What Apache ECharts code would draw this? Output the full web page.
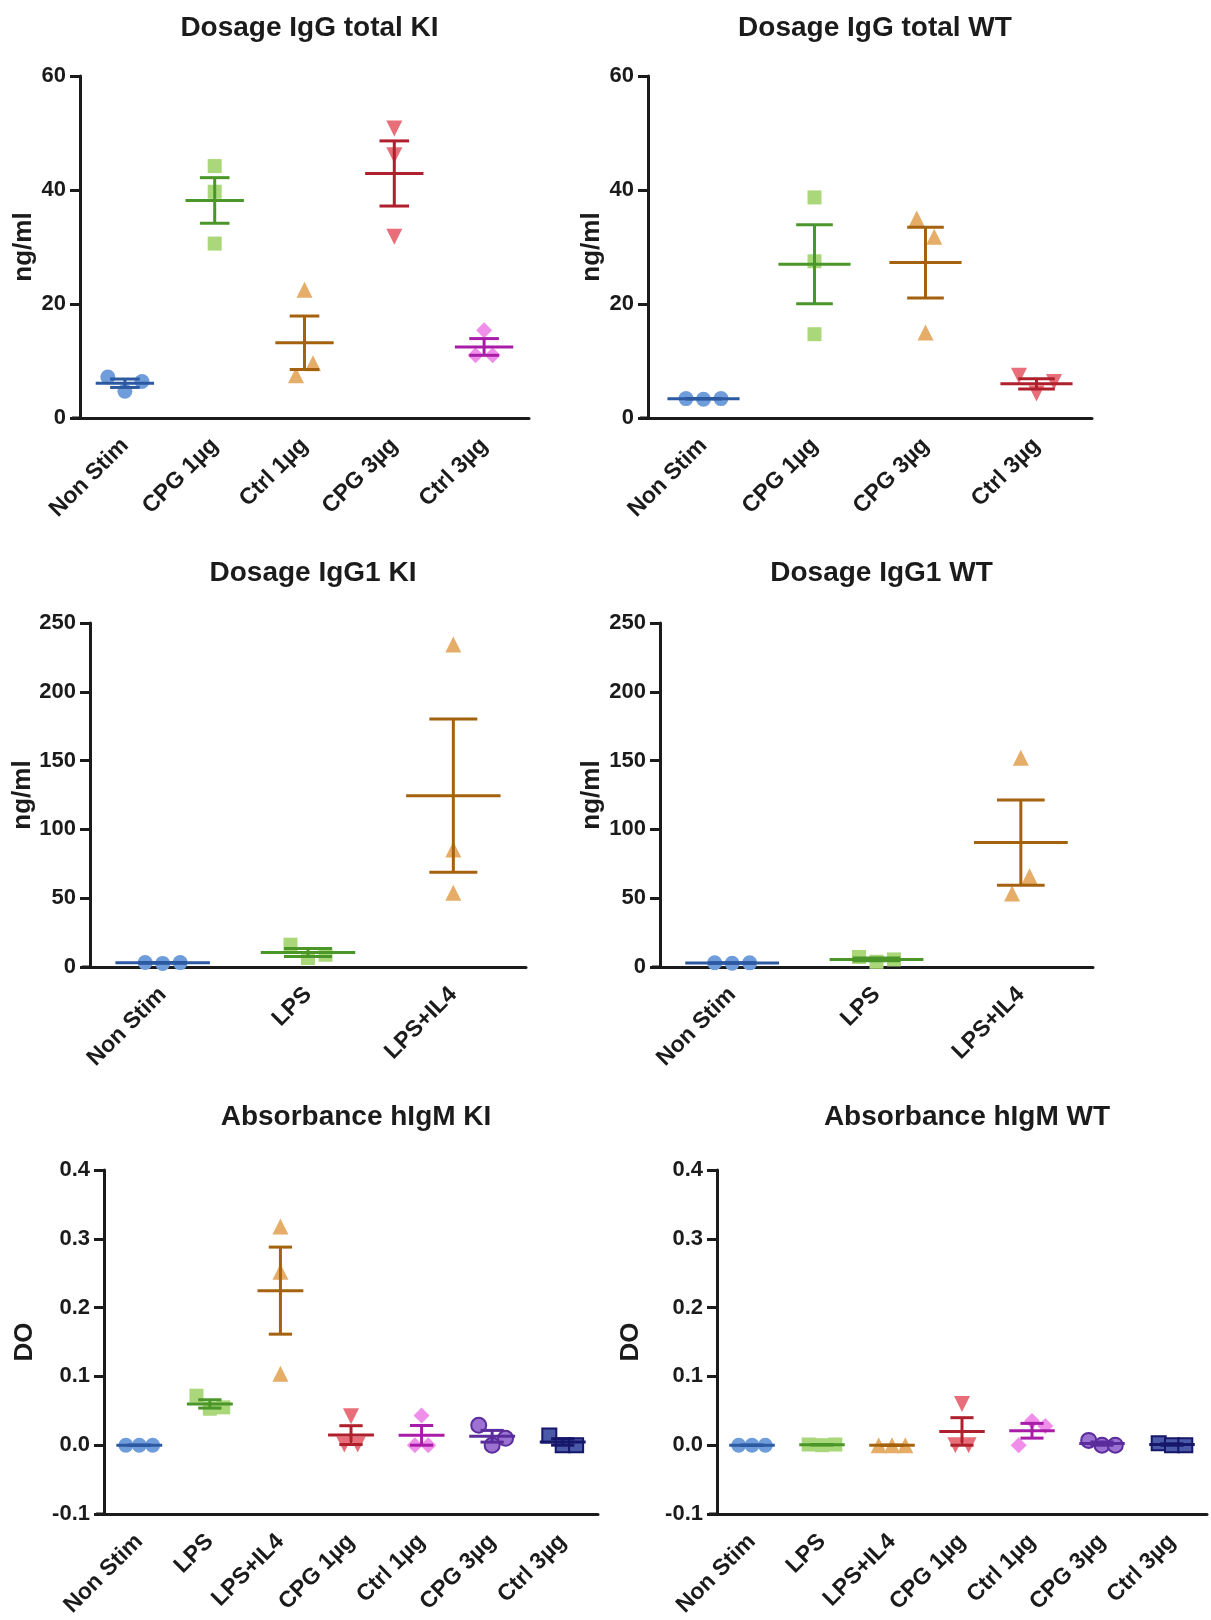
<!DOCTYPE html>
<html><head><meta charset="utf-8">
<script src="https://cdn.jsdelivr.net/npm/echarts@6/dist/echarts.min.js"></script>
<style>html,body{margin:0;padding:0;background:#fff}#c{width:1211px;height:1620px}</style>
</head><body><div id="c"></div>
<script>
// ---------------- DATA ----------------
const titles = ['Dosage IgG total KI', 'Dosage IgG total WT', 'Dosage IgG1 KI', 'Dosage IgG1 WT', 'Absorbance hIgM KI', 'Absorbance hIgM WT'];
const yNames = ['ng/ml', 'ng/ml', 'ng/ml', 'ng/ml', 'DO', 'DO'];

const yMin = [0, 0, 0, 0, -0.1, -0.1];
const yMax = [60, 60, 250, 250, 0.4, 0.4];
const yStep = [20, 20, 50, 50, 0.1, 0.1];
const yDecimals = [0, 0, 0, 0, 1, 1];

const cats1 = ['Non Stim', 'CPG 1µg', 'Ctrl 1µg', 'CPG 3µg', 'Ctrl 3µg'];
const vals1 = [[7.2, 4.7, 6.4], [44.2, 39.7, 30.6], [7.5, 22.5, 9.6], [50.8, 46.1, 31.8], [11.0, 15.4, 11.0]];

const cats2 = ['Non Stim', 'CPG 1µg', 'CPG 3µg', 'Ctrl 3µg'];
const vals2 = [[3.4, 3.3, 3.4], [38.7, 27.5, 14.7], [35.0, 15.0, 31.8], [7.4, 4.3, 6.3]];

const cats3 = ['Non Stim', 'LPS', 'LPS+IL4'];
const vals3 = [[3.3, 2.6, 3.2], [16.2, 6.5, 8.9], [234.3, 85.4, 53.9]];

const cats4 = ['Non Stim', 'LPS', 'LPS+IL4'];
const vals4 = [[3.1, 2.7, 3.0], [7.3, 3.8, 5.5], [53.4, 152.0, 66.0]];

const cats5 = ['Non Stim', 'LPS', 'LPS+IL4', 'CPG 1µg', 'Ctrl 1µg', 'CPG 3µg', 'Ctrl 3µg'];
const vals5 = [[0, 0, 0], [0.072, 0.053, 0.055], [0.318, 0.252, 0.104], [0.001, 0.042, 0.001], [0.0, 0.043, 0.0], [0.029, 0.0, 0.010], [0.014, 0.0, 0.0]];

const cats6 = ['Non Stim', 'LPS', 'LPS+IL4', 'CPG 1µg', 'Ctrl 1µg', 'CPG 3µg', 'Ctrl 3µg'];
const vals6 = [[0, 0, 0], [0.001, 0.0, 0.001], [0, 0, 0], [0.0, 0.060, 0.0], [0.0, 0.035, 0.028], [0.007, 0.0, 0.0], [0.003, 0.0, 0.0]];

const allCats = [cats1, cats2, cats3, cats4, cats5, cats6];
const allVals = [vals1, vals2, vals3, vals4, vals5, vals6];

// ---------------- LAYOUT / STYLE ----------------
const grids = [
  {left: 80, top: 76, width: 449, height: 342},
  {left: 648, top: 76, width: 444, height: 342},
  {left: 90, top: 623, width: 436, height: 344},
  {left: 660, top: 623, width: 433, height: 344},
  {left: 104, top: 1170, width: 494, height: 344},
  {left: 717, top: 1170, width: 490, height: 344}
];
const titleTops = [9, 554, 1098];
const nameGaps = [43, 43, 52, 55, 66, 73];

const pointColors = ['#6f9ddb', '#a9d77a', '#e5ad68', '#e86f79', '#f08fea', '#9b72d2', '#4b5aa8'];
const lineColors = ['#2c59a0', '#4a9628', '#a4620e', '#b0202c', '#a81ca8', '#5a2c9c', '#16166a'];
const borderColors = [null, null, null, null, null, '#5a2c9c', '#16166a'];
const symbols = ['circle', 'rect', 'triangle', 'triangle', 'diamond', 'circle', 'rect'];
const symbolRot = [0, 0, 0, 180, 0, 0, 0];
const symbolSizes = [15, 14, 16, 16, 16, 15, 14];

const FONT = '"Liberation Sans", Arial, Helvetica, sans-serif';
const INK = '#1b1b1b';
const THRESH = 21;

function stats(v) {
  const n = v.length;
  const m = v.reduce((a, b) => a + b, 0) / n;
  const sd = Math.sqrt(v.reduce((a, b) => a + (b - m) * (b - m), 0) / (n - 1));
  return [m, sd / Math.sqrt(n)];
}
function jitter(vals, pxPerUnit, spacing) {
  const idx = vals.map((v, i) => i).sort((a, b) => vals[a] - vals[b]);
  const clusters = [];
  let cur = [idx[0]];
  for (let k = 1; k < idx.length; k++) {
    if ((vals[idx[k]] - vals[idx[k - 1]]) * pxPerUnit < THRESH) cur.push(idx[k]);
    else { clusters.push(cur); cur = [idx[k]]; }
  }
  clusters.push(cur);
  const off = new Array(vals.length).fill(0);
  clusters.forEach(cl => {
    cl.sort((a, b) => a - b);
    cl.forEach((i, j) => { off[i] = (j - (cl.length - 1) / 2) * spacing; });
  });
  return off;
}

const option = {
  backgroundColor: '#ffffff',
  animation: false,
  title: [], grid: [], xAxis: [], yAxis: [], series: [], graphic: []
};

for (let p = 0; p < 6; p++) {
  const g = grids[p];
  const cats = allCats[p];
  const vals = allVals[p];
  option.grid.push({left: g.left, top: g.top, width: g.width, height: g.height, containLabel: false});
  option.title.push({
    text: titles[p], left: g.left + g.width / 2, top: titleTops[Math.floor(p / 2)], textAlign: 'center',
    textStyle: {fontFamily: FONT, fontSize: 28, fontWeight: 'bold', color: INK}
  });
  option.xAxis.push({
    type: 'category', gridIndex: p, data: cats, boundaryGap: true,
    axisLine: {onZero: false, lineStyle: {color: INK, width: 3}},
    axisTick: {alignWithLabel: true, length: 9, lineStyle: {color: INK, width: 3}},
    axisLabel: {rotate: 45, margin: 24, interval: 0, fontFamily: FONT, fontSize: 23, fontWeight: 'bold', color: INK},
    splitLine: {show: false}
  });
  const dec = yDecimals[p];
  option.yAxis.push({
    type: 'value', gridIndex: p, min: yMin[p], max: yMax[p], interval: yStep[p],
    name: yNames[p], nameLocation: 'middle', nameRotate: 90, nameGap: nameGaps[p],
    nameTextStyle: {fontFamily: FONT, fontSize: 26, fontWeight: 'bold', color: INK},
    axisLine: {show: true, lineStyle: {color: INK, width: 3}},
    axisTick: {show: true, length: 10, lineStyle: {color: INK, width: 3}},
    axisLabel: {margin: 14, fontFamily: FONT, fontSize: 22, fontWeight: 'bold', color: INK,
      formatter: v => (Math.abs(v) < 1e-9 ? 0 : v).toFixed(dec)},
    splitLine: {show: false}
  });
  // x-axis stub left of y-axis
  option.graphic.push({type: 'line', silent: true, z: 10,
    shape: {x1: g.left - 8, y1: g.top + g.height, x2: g.left + 1, y2: g.top + g.height},
    style: {stroke: INK, lineWidth: 3}});

  const pxPerUnit = g.height / (yMax[p] - yMin[p]);
  const band = g.width / cats.length;
  const spacing = Math.min(17.5, band * 0.19);
  const summary = [];
  vals.forEach((grp, k) => {
    const off = jitter(grp, pxPerUnit, spacing);
    const st = stats(grp);
    summary.push([k, st[0], st[1], k]);
    option.series.push({
      type: 'scatter', xAxisIndex: p, yAxisIndex: p, z: 2,
      symbol: symbols[k], symbolRotate: symbolRot[k], symbolSize: symbolSizes[k],
      itemStyle: {color: pointColors[k], opacity: 1,
        borderColor: borderColors[k] || pointColors[k], borderWidth: borderColors[k] ? 2 : 0},
      data: grp.map((v, i) => ({value: [k, v], symbolOffset: [off[i], 0]}))
    });
  });
  option.series.push({
    type: 'custom', xAxisIndex: p, yAxisIndex: p, z: 5,
    data: summary,
    renderItem: function (params, api) {
      const c = api.value(0), m = api.value(1), s = api.value(2);
      const col = lineColors[api.value(3)];
      const pm = api.coord([c, m]);
      const pt = api.coord([c, m + s]);
      const pb = api.coord([c, m - s]);
      const bw = api.size([1, 0])[0];
      const style = {stroke: col, lineWidth: 3, fill: null};
      const mh = bw * 0.325, ch = bw * 0.165;
      return {type: 'group', children: [
        {type: 'line', shape: {x1: pm[0], y1: pt[1], x2: pm[0], y2: pb[1]}, style: style},
        {type: 'line', shape: {x1: pm[0] - ch, y1: pt[1], x2: pm[0] + ch, y2: pt[1]}, style: style},
        {type: 'line', shape: {x1: pm[0] - ch, y1: pb[1], x2: pm[0] + ch, y2: pb[1]}, style: style},
        {type: 'line', shape: {x1: pm[0] - mh, y1: pm[1], x2: pm[0] + mh, y2: pm[1]}, style: style}
      ]};
    }
  });
}

const chart = echarts.init(document.getElementById('c'), null, {renderer: 'canvas'});
chart.setOption(option);
</script></body></html>
